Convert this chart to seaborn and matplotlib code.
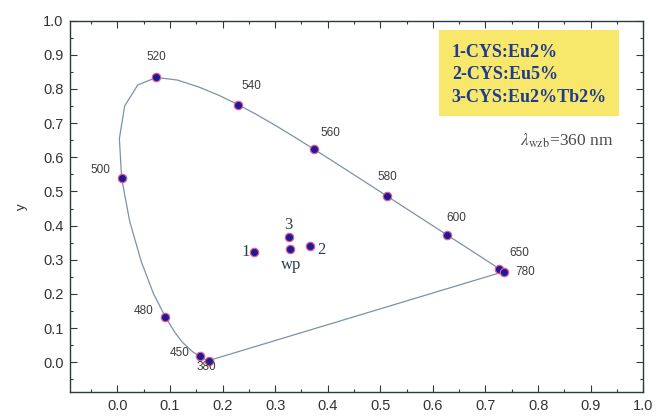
import matplotlib
matplotlib.use("Agg")
import matplotlib.pyplot as plt
import seaborn as sns
import pandas as pd
from matplotlib.patches import Rectangle

# ---- data ----
locus_nm = [380, 390, 400, 410, 420, 430, 440, 450, 460, 470, 475, 480, 485, 490, 495,
            500, 505, 510, 515, 520, 525, 530, 535, 540, 545, 550, 555, 560, 565, 570,
            575, 580, 585, 590, 595, 600, 610, 620, 630, 640, 650, 660, 680, 700, 780]
locus_x = [0.1741, 0.1738, 0.1733, 0.1726, 0.1714, 0.1689, 0.1644, 0.1566, 0.1440, 0.1241,
           0.1096, 0.0913, 0.0687, 0.0454, 0.0235, 0.0082, 0.0039, 0.0139, 0.0389, 0.0743,
           0.1142, 0.1547, 0.1929, 0.2296, 0.2658, 0.3016, 0.3373, 0.3731, 0.4087, 0.4441,
           0.4788, 0.5125, 0.5448, 0.5752, 0.6029, 0.6270, 0.6658, 0.6915, 0.7079, 0.7190,
           0.7260, 0.7300, 0.7334, 0.7347, 0.7347]
locus_y = [0.0050, 0.0049, 0.0048, 0.0048, 0.0051, 0.0069, 0.0109, 0.0177, 0.0297, 0.0578,
           0.0868, 0.1327, 0.2007, 0.2950, 0.4127, 0.5384, 0.6548, 0.7502, 0.8120, 0.8338,
           0.8262, 0.8059, 0.7816, 0.7543, 0.7243, 0.6923, 0.6589, 0.6245, 0.5896, 0.5547,
           0.5202, 0.4866, 0.4544, 0.4242, 0.3965, 0.3725, 0.3340, 0.3083, 0.2920, 0.2809,
           0.2740, 0.2700, 0.2666, 0.2653, 0.2653]
marked_nm = [380, 450, 480, 500, 520, 540, 560, 580, 600, 650, 780]

sample_labels = ["1", "2", "3", "wp"]
sample_x = [0.259, 0.366, 0.326, 0.329]
sample_y = [0.324, 0.340, 0.368, 0.331]

legend_lines = ["1-CYS:Eu2%", "2-CYS:Eu5%", "3-CYS:Eu2%Tb2%"]
excitation_text = r"$\lambda_{\mathrm{wzb}}$=360 nm"

x_ticks = [0.0, 0.1, 0.2, 0.3, 0.4, 0.5, 0.6, 0.7, 0.8, 0.9, 1.0]
y_ticks = [0.0, 0.1, 0.2, 0.3, 0.4, 0.5, 0.6, 0.7, 0.8, 0.9, 1.0]

# ---- style ----
sns.set_style("ticks")
plt.rcParams["font.family"] = ["Liberation Sans", "DejaVu Sans"]
plt.rcParams["mathtext.fontset"] = "stix"

spine_c = "#2e3a3a"
fig = plt.figure(figsize=(6.56, 4.16), dpi=100)
ax = fig.add_axes([0.1067, 0.0570, 0.8739, 0.8933])

locus = pd.DataFrame({"nm": locus_nm, "x": locus_x, "y": locus_y})
# closed outline: spectral locus plus the purple line back to the start
closed = pd.concat([locus, locus.iloc[[0]]], ignore_index=True)
sns.lineplot(data=closed, x="x", y="y", sort=False, estimator=None, ax=ax,
             color="#7a93a8", linewidth=0.9, zorder=2)

marked = locus[locus["nm"].isin(marked_nm)]
sns.scatterplot(data=marked, x="x", y="y", ax=ax, s=36, color="#1a1a9c",
                edgecolor="#e85a8c", linewidth=0.9, zorder=3)

samples = pd.DataFrame({"lab": sample_labels, "x": sample_x, "y": sample_y})
sns.scatterplot(data=samples, x="x", y="y", ax=ax, s=36, color="#1a1a9c",
                edgecolor="#e85a8c", linewidth=0.9, zorder=3)

# wavelength labels (pixel offsets)
wl_off = {380: (-3, -6), 450: (-20, 3), 480: (-22, 6), 500: (-21, 8), 520: (0, 20),
          540: (13, 19), 560: (17, 16), 580: (0, 19), 600: (9, 17), 650: (20, 16),
          780: (21, 0)}
for _, r in marked.iterrows():
    dx, dy = wl_off[int(r["nm"])]
    ax.annotate(str(int(r["nm"])), (r["x"], r["y"]), xytext=(dx * 0.72, dy * 0.72),
                textcoords="offset points", ha="center", va="center",
                fontsize=8.5, color="#3c3c3c", zorder=4)

s_off = {"1": (-8, 0), "2": (12, -4), "3": (0, 12), "wp": (1, -16)}
for _, r in samples.iterrows():
    dx, dy = s_off[r["lab"]]
    ax.annotate(r["lab"], (r["x"], r["y"]), xytext=(dx * 0.72, dy * 0.72),
                textcoords="offset points", ha="center", va="center",
                fontsize=12, color="#2f3f4a", family="Liberation Serif", zorder=4)

# legend-like box
ax.add_patch(Rectangle((0.644, 0.7436), 0.314, 0.2314, transform=ax.transAxes,
                       facecolor="#f7e86c", edgecolor="none", zorder=1))
for txt, yy in zip(legend_lines, [0.915, 0.856, 0.794]):
    ax.text(0.666, yy, txt, transform=ax.transAxes, ha="left", va="center",
            fontsize=13, fontweight="bold", color="#1f3a8f",
            family="Liberation Serif", zorder=5)

ax.text(0.866, 0.676, excitation_text, transform=ax.transAxes, ha="center",
        va="center", fontsize=12.5, color="#4a4a4a", family="Liberation Serif")

# axes
ax.set_xlim(-0.09, 1.0)
ax.set_ylim(-0.088, 1.0)
ax.set_xticks(x_ticks)
ax.set_yticks(y_ticks)
ax.set_xticklabels([f"{v:.1f}" for v in x_ticks])
ax.set_yticklabels([f"{v:.1f}" for v in y_ticks])
ax.set_xticks([v + 0.05 for v in [-0.1] + x_ticks[:-1]], minor=True)
ax.set_yticks([v + 0.05 for v in [-0.1] + y_ticks[:-1]], minor=True)
ax.set_xlabel("")
ax.set_ylabel("y", fontsize=9.5, color="#333333", labelpad=11)

for sp in ax.spines.values():
    sp.set_visible(True)
    sp.set_color(spine_c)
    sp.set_linewidth(1.0)
ax.tick_params(which="both", direction="in", top=True, right=True, colors=spine_c,
               labelcolor="#333333", width=0.8)
ax.tick_params(which="major", length=5, labelsize=10.5, pad=4.5)
ax.tick_params(which="minor", length=2.5)

fig.savefig("out.png", dpi=100)
